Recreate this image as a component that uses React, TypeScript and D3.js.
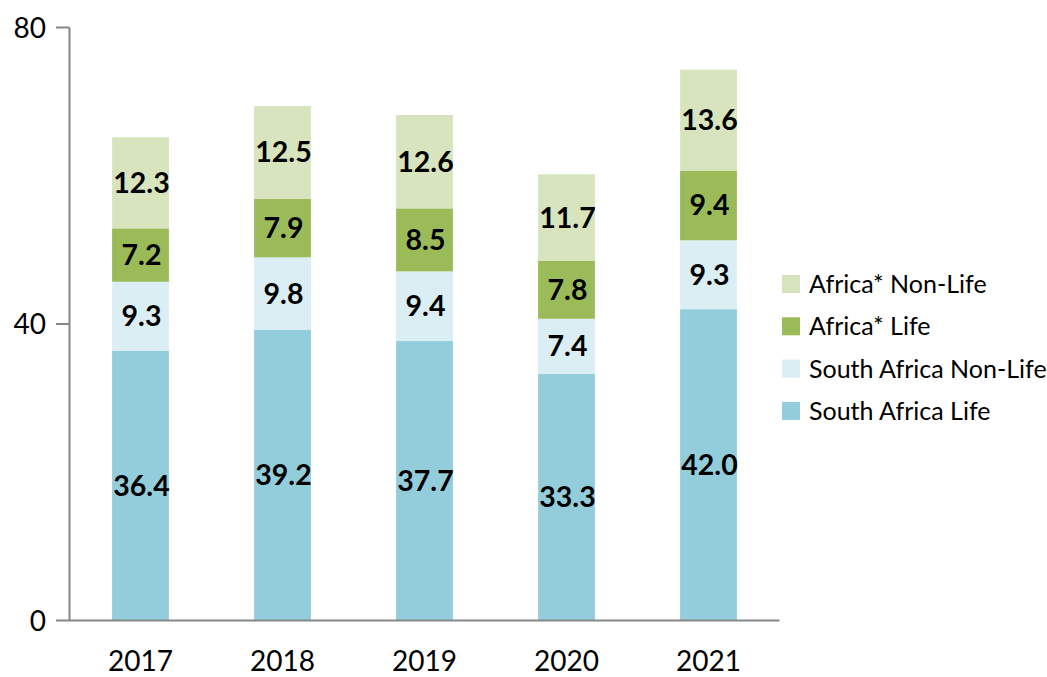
import React from "react";
import * as d3 from "d3";

const years = ["2017", "2018", "2019", "2020", "2021"];
const southAfricaLife = [36.4, 39.2, 37.7, 33.3, 42.0];
const southAfricaNonLife = [9.3, 9.8, 9.4, 7.4, 9.3];
const africaLife = [7.2, 7.9, 8.5, 7.8, 9.4];
const africaNonLife = [12.3, 12.5, 12.6, 11.7, 13.6];
const yTicks = [0, 40, 80];

const seriesKeys = ["saLife", "saNonLife", "afLife", "afNonLife"];
const seriesNames: Record<string, string> = {
  saLife: "South Africa Life",
  saNonLife: "South Africa Non-Life",
  afLife: "Africa* Life",
  afNonLife: "Africa* Non-Life",
};
const colors: Record<string, string> = {
  saLife: "#93CDDC",
  saNonLife: "#DBEEF4",
  afLife: "#9BBB59",
  afNonLife: "#D7E4BD",
};

const rows = years.map((yr, i) => ({
  year: yr,
  saLife: southAfricaLife[i],
  saNonLife: southAfricaNonLife[i],
  afLife: africaLife[i],
  afNonLife: africaNonLife[i],
}));

const FONT = "Lato, 'Open Sans', sans-serif";

export default function App() {
  const x = d3.scaleBand<string>().domain(years).range([69.5, 779.5]).paddingInner(0.6).paddingOuter(0.3);
  const y = d3.scaleLinear().domain([0, 80]).range([620.5, 27.5]);
  const stack = d3.stack<any>().keys(seriesKeys);
  const stacked = stack(rows as any);
  const legendOrder = ["afNonLife", "afLife", "saNonLife", "saLife"];
  const axisColor = "#878787";

  return (
    <svg width={1047} height={677} style={{ position: "absolute", left: 0, top: 0 }} fontFamily={FONT}>
      <rect width={1047} height={677} fill="#fff" />
      {stacked.map((s) => (
        <g key={s.key}>
          {s.map((d, i) => {
            const x0 = x(years[i])!;
            const y0 = y(d[1]);
            const h = y(d[0]) - y(d[1]);
            return (
              <g key={i}>
                <rect x={x0} y={y0} width={x.bandwidth()} height={h} fill={colors[s.key]} />
                <text
                  x={x0 + x.bandwidth() / 2 + 1}
                  y={y0 + h / 2 + 10}
                  textAnchor="middle"
                  fontWeight="bold"
                  fontSize={28.5}
                  fill="#000"
                >
                  {(d[1] - d[0]).toFixed(1)}
                </text>
              </g>
            );
          })}
        </g>
      ))}
      {/* y axis */}
      <line x1={69.5} x2={69.5} y1={y(80)} y2={y(0)} stroke={axisColor} strokeWidth={2} />
      {yTicks.map((t) => (
        <g key={t}>
          <line x1={56} x2={69.5} y1={y(t)} y2={y(t)} stroke={axisColor} strokeWidth={2} />
          <text x={46} y={y(t) + 10} textAnchor="end" fontSize={28} fill="#000">
            {t}
          </text>
        </g>
      ))}
      {/* x axis */}
      <line x1={69.5} x2={779.5} y1={y(0)} y2={y(0)} stroke={axisColor} strokeWidth={2} />
      {years.map((yr) => (
        <text key={yr} x={x(yr)! + x.bandwidth() / 2} y={671} textAnchor="middle" fontSize={28} fill="#000">
          {yr}
        </text>
      ))}
      {/* legend */}
      {legendOrder.map((k, i) => (
        <g key={k} transform={`translate(782, ${275 + i * 42.3})`}>
          <rect width={18} height={18} fill={colors[k]} />
          <text x={27} y={18} fontSize={25} fill="#000">
            {seriesNames[k]}
          </text>
        </g>
      ))}
    </svg>
  );
}
